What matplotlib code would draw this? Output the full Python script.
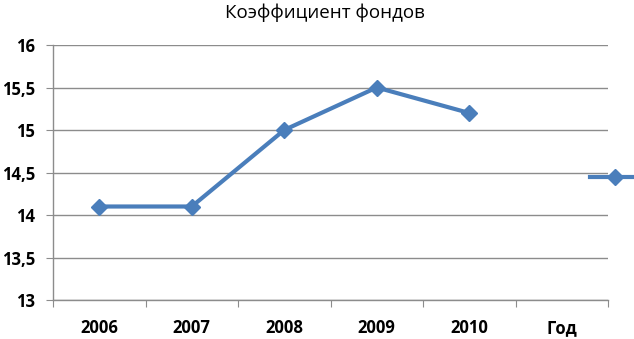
import matplotlib
matplotlib.use("Agg")
import matplotlib.pyplot as plt
from matplotlib.lines import Line2D

# данные
categories = ["2006", "2007", "2008", "2009", "2010", "Год"]
values = [14.1, 14.1, 15.0, 15.5, 15.2]
y_ticks = [13, 13.5, 14, 14.5, 15, 15.5, 16]
y_labels = ["13", "13,5", "14", "14,5", "15", "15,5", "16"]

plt.rcParams['font.family'] = ['Liberation Sans Narrow', 'Open Sans', 'DejaVu Sans']

color = "#4A7EBB"
grid_color = "#8C8C8C"

fig = plt.figure(figsize=(6.34, 3.39), dpi=100)
ax = fig.add_axes([53 / 634, 1 - 300 / 339, (608 - 53) / 634, (300 - 45) / 339])

x = list(range(len(values)))
ax.plot(x, values, color=color, linewidth=3, marker="D", markersize=8,
        markeredgecolor=color, zorder=3, clip_on=False)

ax.set_xlim(-0.5, len(categories) - 0.5)
ax.set_ylim(13, 16)

# сетка и оси
ax.set_yticks(y_ticks)
ax.set_yticklabels(y_labels, fontsize=12, fontweight="bold")
ax.yaxis.grid(True, color=grid_color, linewidth=1)
ax.set_axisbelow(True)

ax.set_xticks([i - 0.5 for i in range(len(categories) + 1)])
ax.set_xticklabels([])
ax.set_xticks(range(len(categories)), minor=True)
ax.set_xticklabels(categories, minor=True, fontsize=12, fontweight="bold")

ax.tick_params(axis="y", length=5, color=grid_color, pad=8)
ax.tick_params(axis="x", which="major", length=5, color=grid_color)
ax.tick_params(axis="x", which="minor", length=0, pad=14)

for s in ["top", "right"]:
    ax.spines[s].set_visible(False)
for s in ["left", "bottom"]:
    ax.spines[s].set_color(grid_color)
    ax.spines[s].set_linewidth(1)

fig.text(325 / 634, 1 - 13 / 339, "Коэффициент фондов", ha="center", va="center",
         fontsize=13.5)

# легенда (обрезана справа)
handle = Line2D([], [], color=color, linewidth=3, marker="D", markersize=8)
leg = fig.legend([handle], [" "], loc="center left", bbox_to_anchor=(590 / 634, 1 - 178 / 339),
                 frameon=False, handlelength=3.6, borderpad=0, borderaxespad=0)

fig.savefig("out.png", dpi=100)
